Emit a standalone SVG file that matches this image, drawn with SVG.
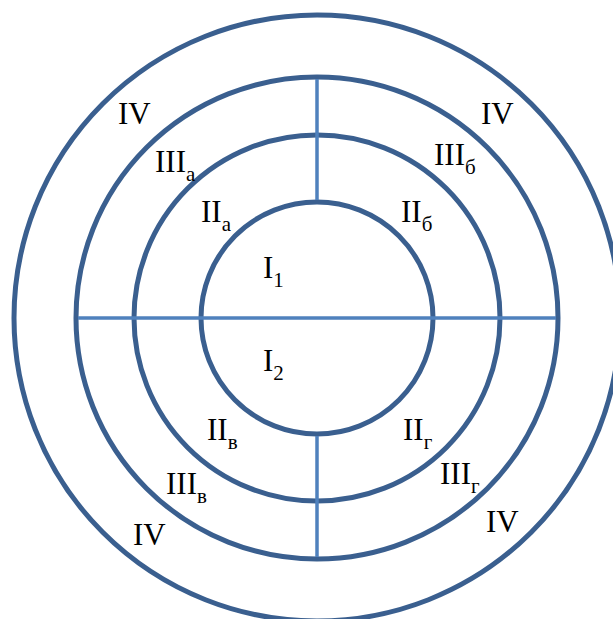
<svg xmlns="http://www.w3.org/2000/svg" width="613" height="619" viewBox="0 0 613 619">
<style>
.ring{fill:none;stroke:#3A5F8F;stroke-width:5}
.ln{stroke:#4F81BD;stroke-width:3.5;fill:none}
text{font-family:"Liberation Serif","Times New Roman",serif;fill:#000}
.m{font-size:31px}
.s{font-size:21px}
</style>
<rect width="613" height="619" fill="#fff"/>
<g id="rings">
<circle id="ring4" class="ring" cx="317" cy="318" r="303"/>
<circle id="ring3" class="ring" cx="317" cy="318" r="241"/>
<circle id="ring2" class="ring" cx="317" cy="318" r="183"/>
<circle id="ring1" class="ring" cx="317" cy="318" r="116"/>
</g>
<g id="connectors">
<line class="ln" x1="78" y1="318" x2="556" y2="318"/>
<line class="ln" x1="317" y1="79" x2="317" y2="200"/>
<line class="ln" x1="317" y1="436" x2="317" y2="557"/>
</g>
<g id="labels">
<g id="IV-tl"><text class="m" x="118" y="124">IV</text></g>
<g id="IV-tr"><text class="m" x="481" y="124">IV</text></g>
<g id="IV-bl"><text class="m" x="133" y="545">IV</text></g>
<g id="IV-br"><text class="m" x="486" y="532">IV</text></g>
<g id="III-a"><text class="m" x="155" y="172">III<tspan class="s" dy="9">а</tspan></text></g>
<g id="III-b"><text class="m" x="434" y="165">III<tspan class="s" dy="9">б</tspan></text></g>
<g id="III-v"><text class="m" x="166" y="494">III<tspan class="s" dy="9">в</tspan></text></g>
<g id="III-g"><text class="m" x="440" y="484">III<tspan class="s" dy="9">г</tspan></text></g>
<g id="II-a"><text class="m" x="201" y="222">II<tspan class="s" dy="9">а</tspan></text></g>
<g id="II-b"><text class="m" x="401" y="222">II<tspan class="s" dy="9">б</tspan></text></g>
<g id="II-v"><text class="m" x="207" y="440">II<tspan class="s" dy="9">в</tspan></text></g>
<g id="II-g"><text class="m" x="403" y="440">II<tspan class="s" dy="9">г</tspan></text></g>
<g id="I-1"><text class="m" x="263" y="278">I<tspan class="s" dy="9">1</tspan></text></g>
<g id="I-2"><text class="m" x="263" y="371">I<tspan class="s" dy="9">2</tspan></text></g>
</g>
</svg>
